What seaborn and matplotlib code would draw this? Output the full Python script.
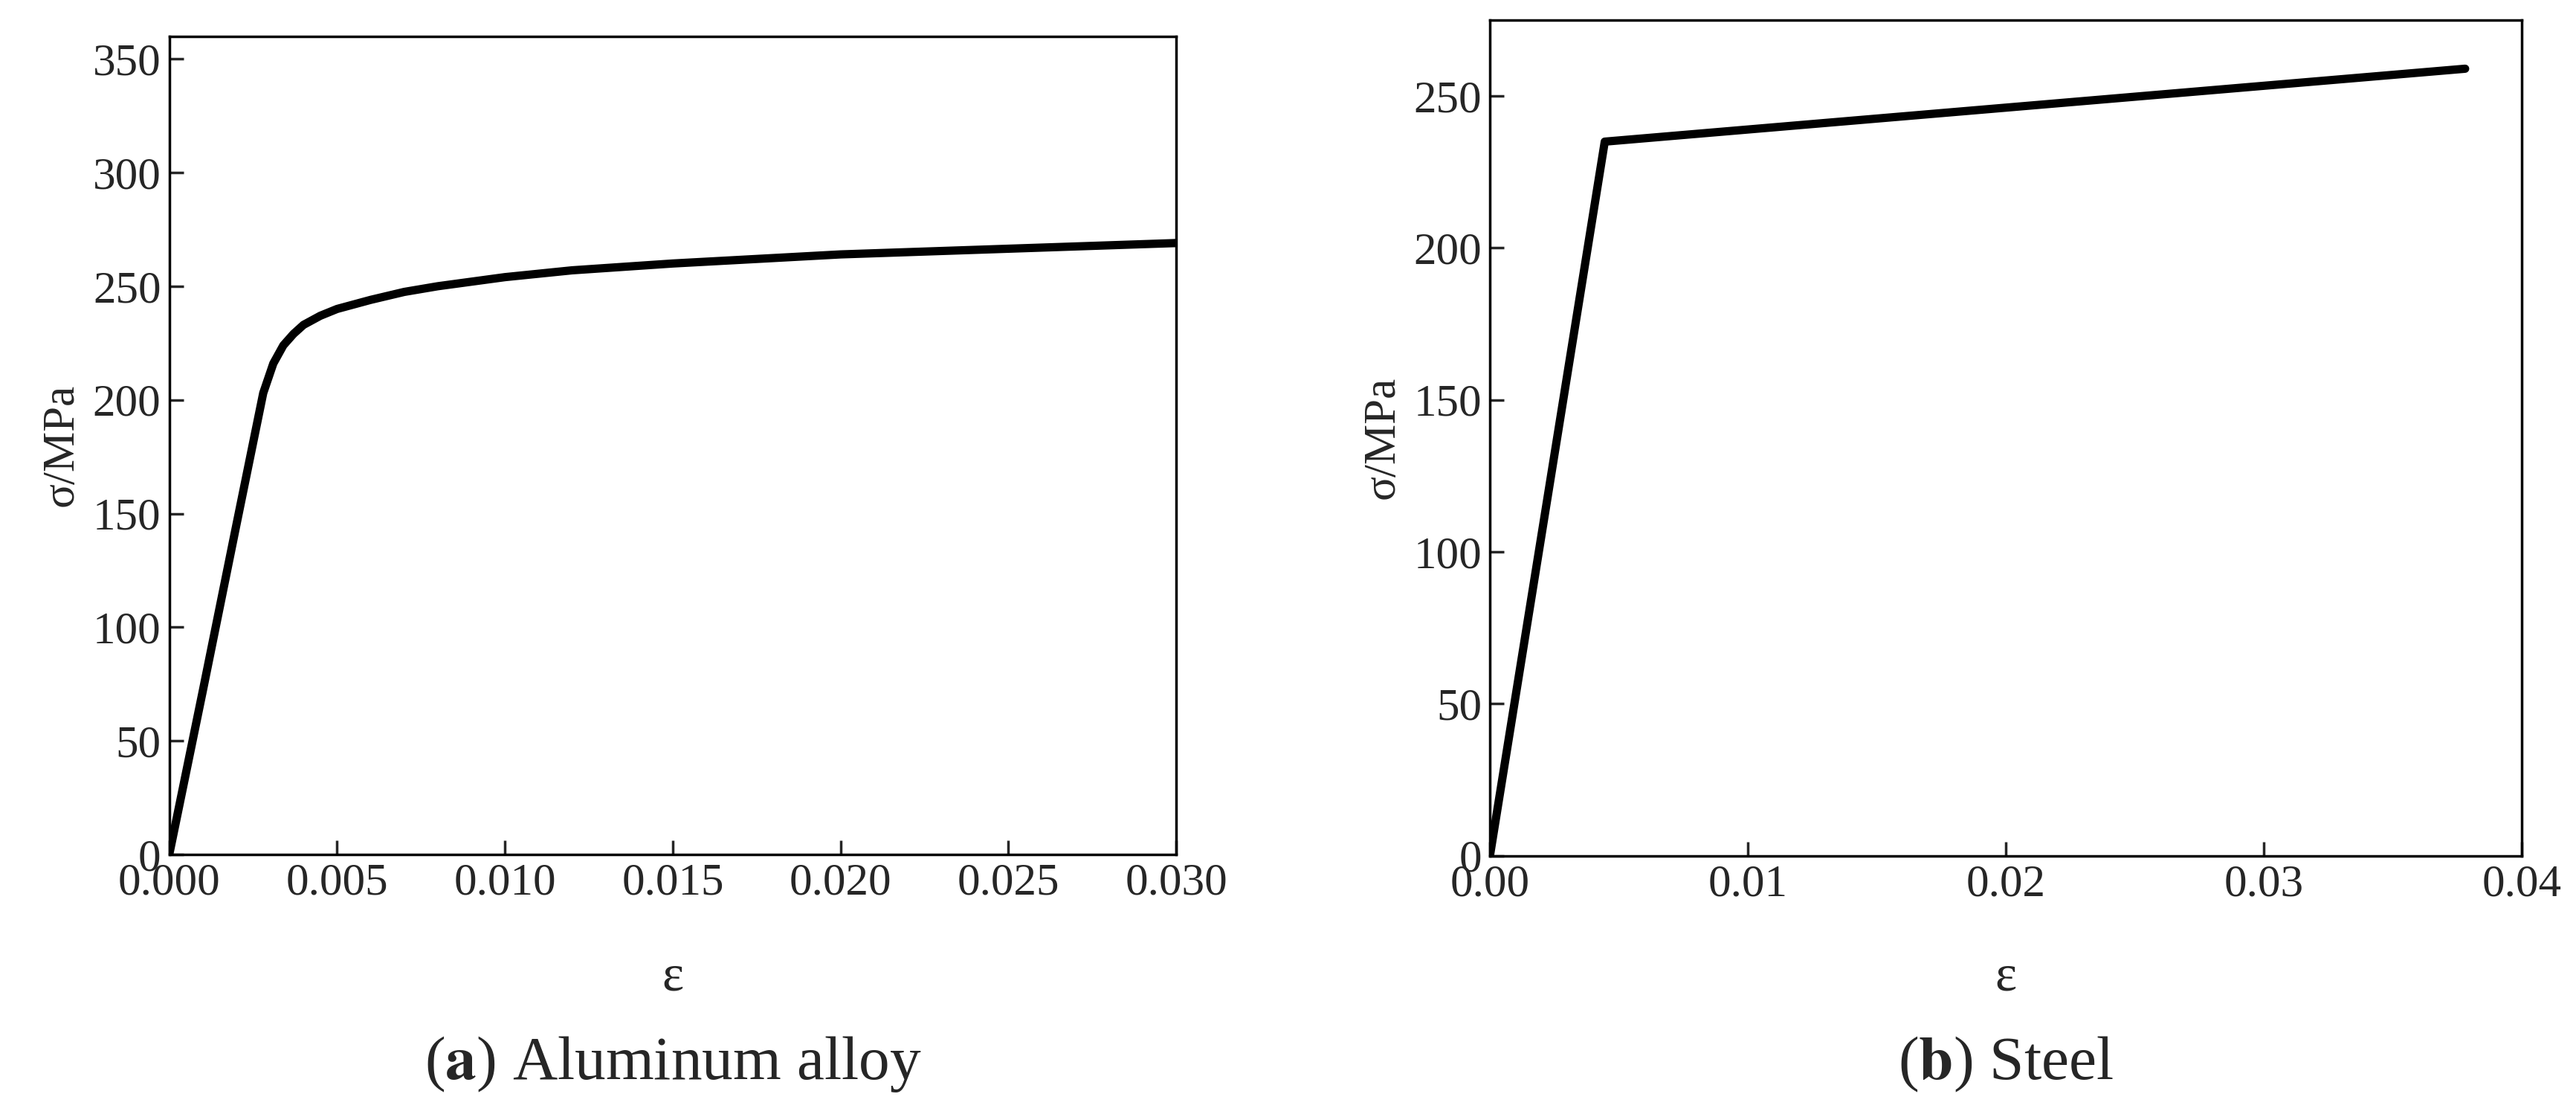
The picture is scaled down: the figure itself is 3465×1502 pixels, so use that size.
import matplotlib
matplotlib.use("Agg")
import matplotlib.pyplot as plt
import seaborn as sns
import pandas as pd

sns.set_theme(style="white")
plt.rcParams['font.family'] = ['Liberation Serif', 'DejaVu Serif']
plt.rcParams['mathtext.fontset'] = 'stix'

al_strain = [0.0, 0.0010, 0.0020, 0.0028, 0.0031, 0.0034, 0.0037, 0.0040, 0.0045, 0.0050, 0.0060, 0.0070,
             0.0080, 0.0100, 0.0120, 0.0150, 0.0200, 0.0250, 0.0300]
al_stress = [0.0, 72, 145, 203, 216, 224, 229, 233, 237, 240, 244, 247.5, 250, 254, 257, 260, 264, 266.5, 269]
st_strain = [0.0, 0.00445, 0.0378]
st_stress = [0.0, 235, 259]

al_xticks = [0.000, 0.005, 0.010, 0.015, 0.020, 0.025, 0.030]
al_yticks = [0, 50, 100, 150, 200, 250, 300, 350]
st_xticks = [0.00, 0.01, 0.02, 0.03, 0.04]
st_yticks = [0, 50, 100, 150, 200, 250]

fig = plt.figure(figsize=(34.65, 15.02), dpi=100)
ax1 = fig.add_axes([0.0657, 0.235, 0.3909, 0.7326])
ax2 = fig.add_axes([0.5784, 0.234, 0.4006, 0.748])

df1 = pd.DataFrame({"e": al_strain, "s": al_stress})
df2 = pd.DataFrame({"e": st_strain, "s": st_stress})
sns.lineplot(data=df1, x="e", y="s", ax=ax1, color="black", lw=8, sort=False)
sns.lineplot(data=df2, x="e", y="s", ax=ax2, color="black", lw=8, sort=False)

fs = 44
for ax, xt, yt, xl, yl, xfmt in [(ax1, al_xticks, al_yticks, (0, 0.03), (0, 360), "{:.3f}"),
                                 (ax2, st_xticks, st_yticks, (0, 0.04), (0, 275), "{:.2f}")]:
    ax.set_xlim(*xl); ax.set_ylim(*yl)
    ax.set_xticks(xt); ax.set_xticklabels([xfmt.format(v) for v in xt], fontsize=fs)
    ax.set_yticks(yt); ax.set_yticklabels([str(v) for v in yt], fontsize=fs)
    ax.tick_params(direction="in", length=14, width=2.5, bottom=True, left=True, top=False, right=False, pad=8)
    for sp in ax.spines.values():
        sp.set_linewidth(2.5); sp.set_color("black")
    ax.set_xlabel("ε", fontsize=fs + 6, va="center")
    ax.set_ylabel("σ/MPa", fontsize=fs, labelpad=10)
    pos = ax.get_position()
    ax.xaxis.set_label_coords(0.5, (0.125 - pos.y0) / pos.height)

fig.text(0.2612, 0.047, r"($\mathbf{a}$) Aluminum alloy", ha="center", va="center", fontsize=60)
fig.text(0.7787, 0.047, r"($\mathbf{b}$) Steel", ha="center", va="center", fontsize=60)

fig.savefig("out.png", dpi=100, facecolor="white")
